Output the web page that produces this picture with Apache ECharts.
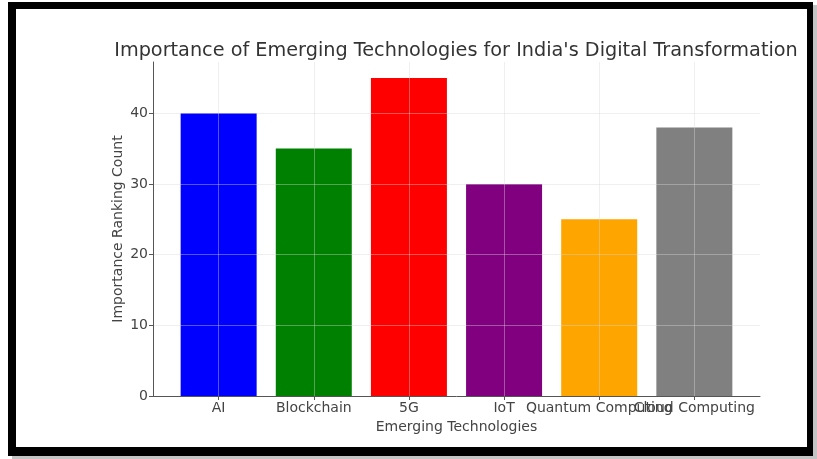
<!DOCTYPE html>
<html>
<head>
<meta charset="utf-8">
<script src="https://cdn.jsdelivr.net/npm/echarts@6/dist/echarts.min.js"></script>
<style>
  html, body { margin: 0; padding: 0; background: #fff; }
  #chart { position: absolute; left: 0; top: 0; width: 817px; height: 459px; }
  #frame {
    position: absolute; left: 8px; top: 2px; width: 791px; height: 438px;
    border-style: solid; border-color: #000;
    border-width: 7px 6px 9px 8px;
    box-shadow: 4px 3px 0 #c4c4c4;
    pointer-events: none;
  }
</style>
</head>
<body>
<div id="chart"></div>
<div id="frame"></div>
<script>
// data
const technologies = ['AI', 'Blockchain', '5G', 'IoT', 'Quantum Computing', 'Cloud Computing'];
const rankingCounts = [40, 35, 45, 30, 25, 38];
const barColors = ['#0000ff', '#008000', '#ff0000', '#800080', '#ffa500', '#808080'];
const yTicks = [0, 10, 20, 30, 40];
const xPositions = [0, 1, 2, 3, 4, 5];

const chart = echarts.init(document.getElementById('chart'));
const font = 'DejaVu Sans';
const gridColor = 'rgba(215,215,215,0.4)';
const labelStyle = { fontFamily: font, fontSize: 14, color: '#444' };

// matplotlib draws overlapping tick labels; ECharts drops one of them,
// so the last label goes on a second, otherwise empty axis
function xAxisFor(values, main) {
  return {
    type: 'value', position: 'bottom', min: -0.69, max: 5.69, z: 3,
    name: main ? 'Emerging Technologies' : '', nameLocation: 'middle', nameGap: 19,
    nameTextStyle: labelStyle,
    axisLine: { show: main, onZero: false, lineStyle: { color: '#555', width: 1 } },
    axisTick: { show: main, length: 4, customValues: xPositions, lineStyle: { color: '#555' } },
    axisLabel: Object.assign({
      customValues: values, margin: 5, hideOverlap: false,
      formatter: v => technologies[Math.round(v)]
    }, labelStyle),
    splitLine: { show: main, lineStyle: { color: gridColor, width: 1 } }
  };
}

chart.setOption({
  animation: false,
  backgroundColor: '#fff',
  title: {
    text: "Importance of Emerging Technologies for India's Digital Transformation",
    left: 451, top: 36, textAlign: 'center',
    textStyle: { fontFamily: font, fontSize: 19.25, fontWeight: 'normal', color: '#333' }
  },
  grid: { left: 153, right: 57, top: 62, bottom: 63 },
  xAxis: [xAxisFor(xPositions.slice(0, 5), true), xAxisFor([xPositions[5]], false)],
  yAxis: {
    type: 'value', min: 0, max: 47.25, z: 3,
    name: 'Importance Ranking Count', nameLocation: 'middle', nameGap: 28,
    nameMoveOverlap: false,
    nameTextStyle: labelStyle,
    axisLine: { show: true, onZero: false, lineStyle: { color: '#555', width: 1 } },
    axisTick: { show: true, length: 4, customValues: yTicks, lineStyle: { color: '#555' } },
    axisLabel: Object.assign({ customValues: yTicks, margin: 5 }, labelStyle),
    splitLine: { show: true, lineStyle: { color: gridColor, width: 1 } }
  },
  series: [{
    type: 'bar',
    barWidth: 76,
    data: rankingCounts.map((v, i) => ({
      value: [xPositions[i], v],
      itemStyle: { color: barColors[i] }
    }))
  }]
});
</script>
</body>
</html>
